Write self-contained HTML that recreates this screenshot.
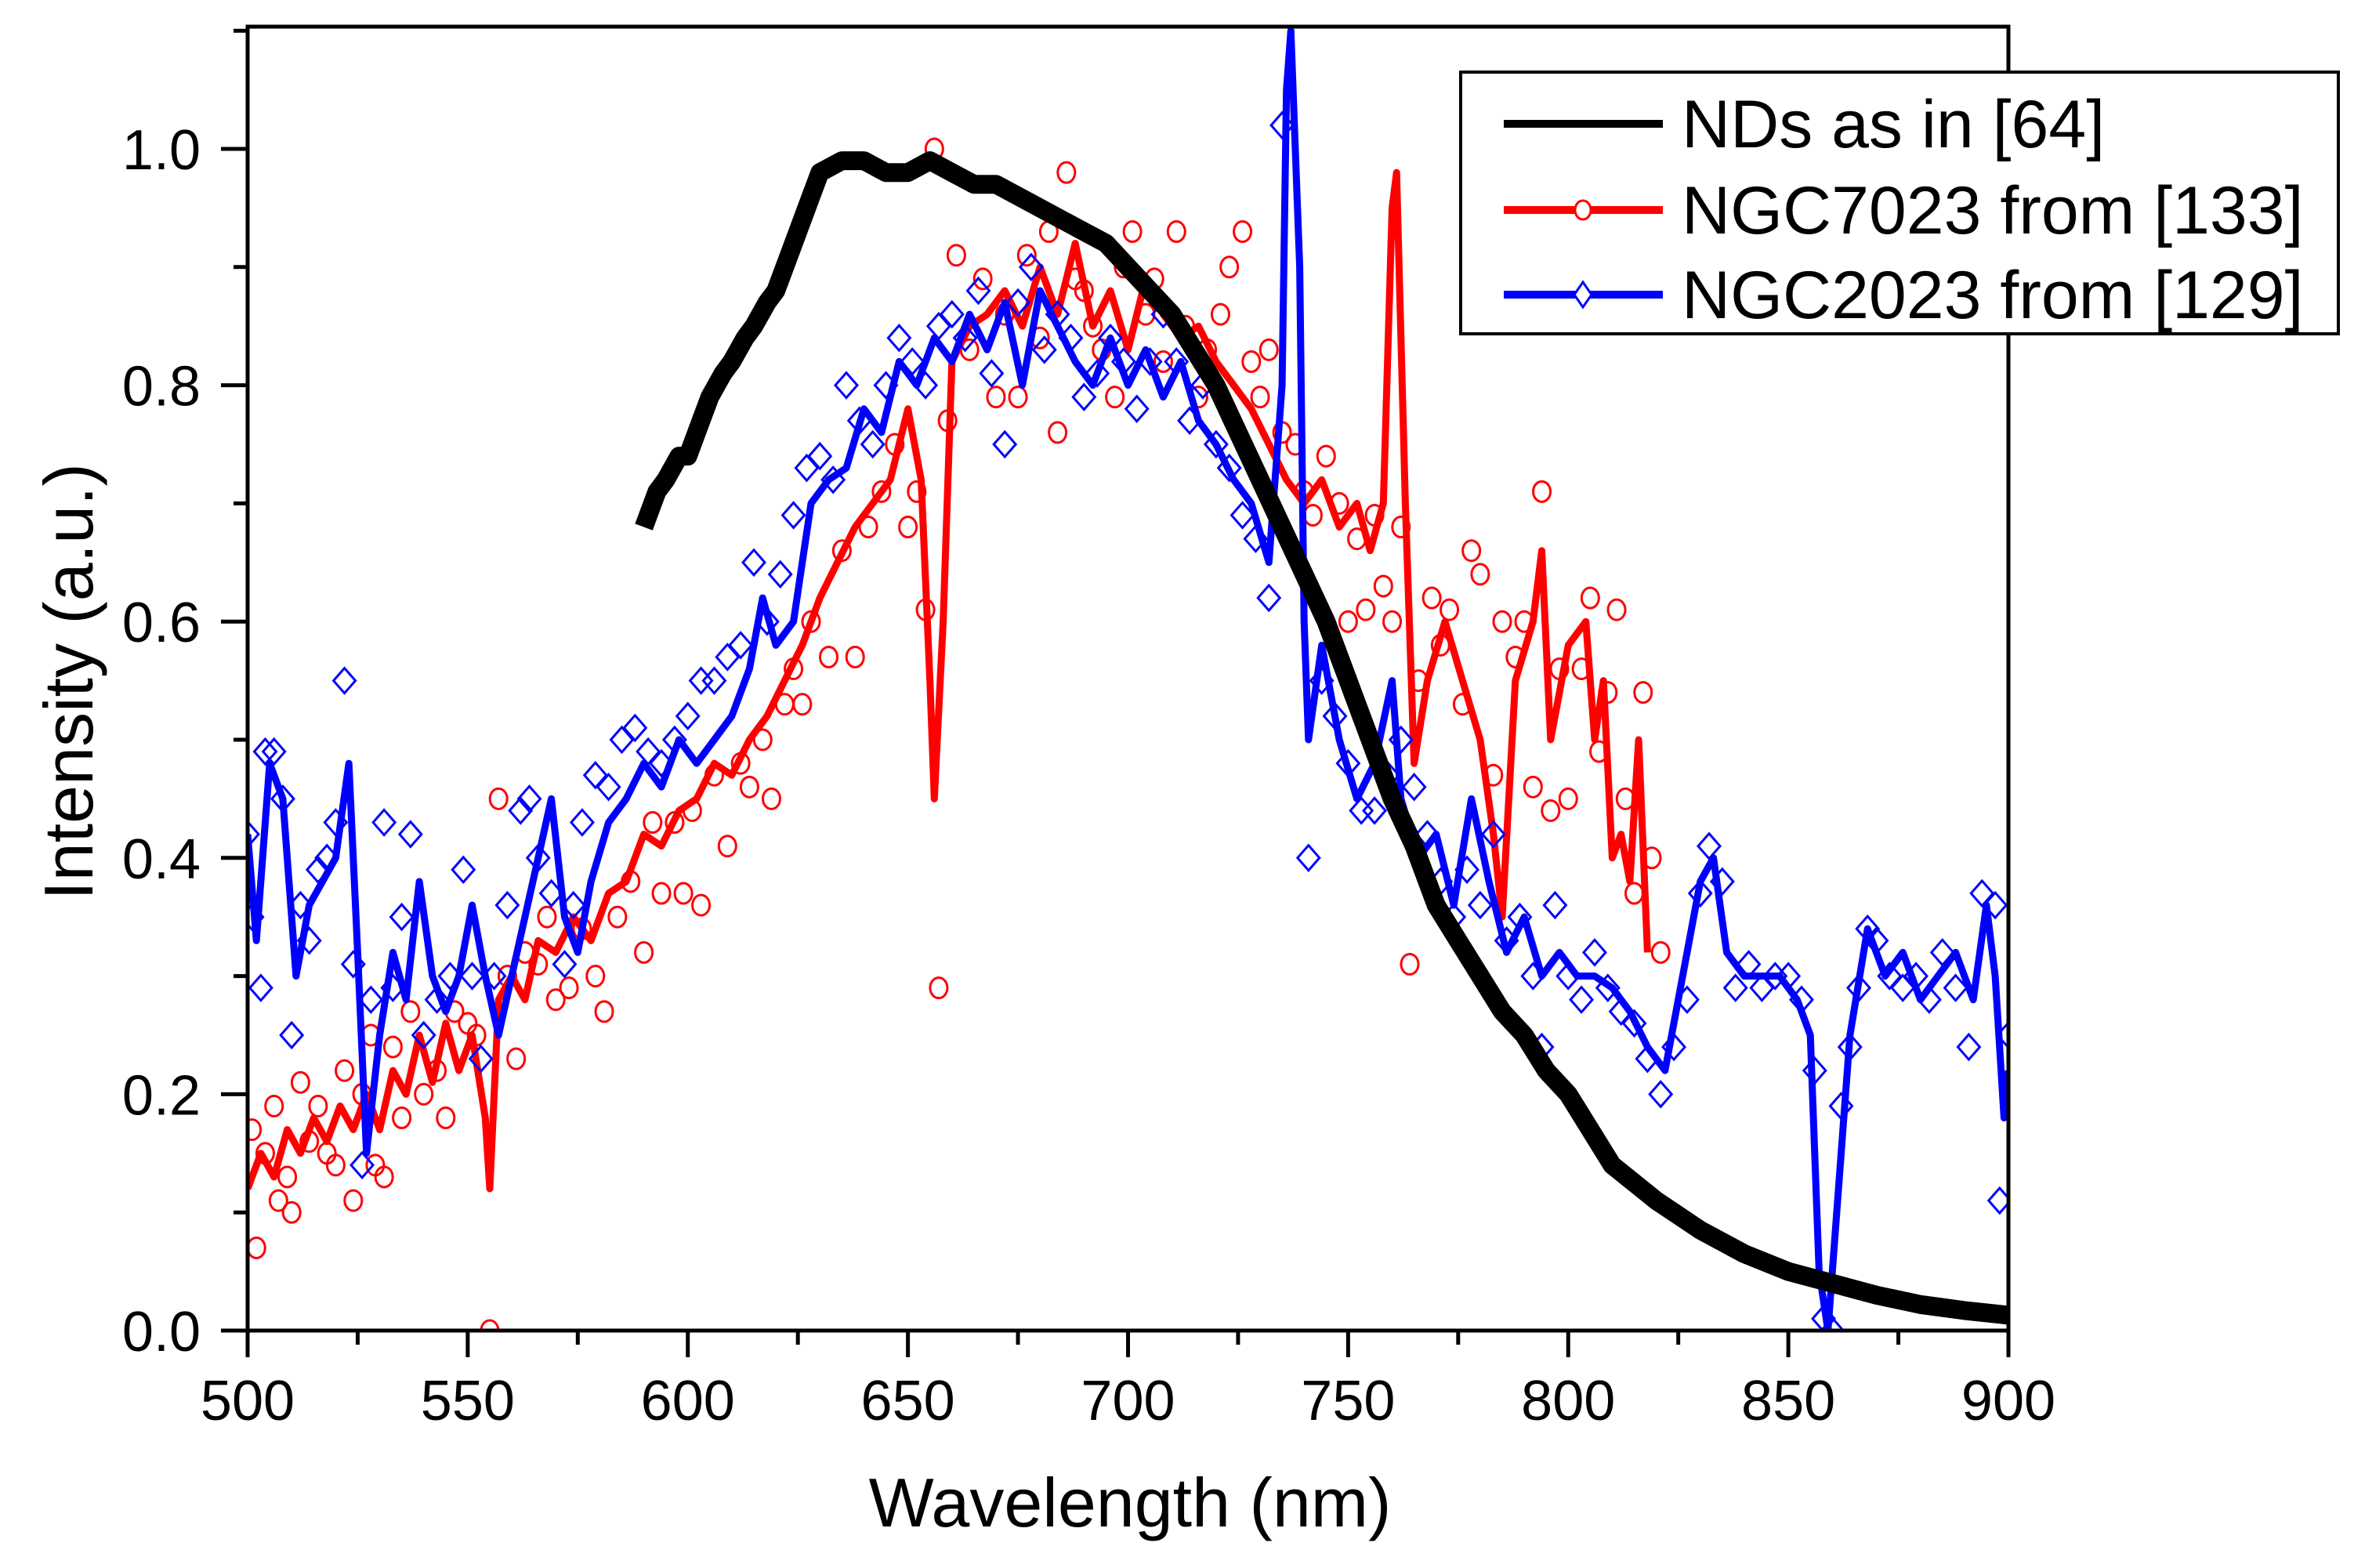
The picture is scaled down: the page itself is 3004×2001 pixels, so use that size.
<!DOCTYPE html>
<html><head><meta charset="utf-8"><style>
html,body{margin:0;padding:0;background:#fff}
svg{display:block}
text{font-family:"Liberation Sans",Arial,sans-serif;fill:#000}
</style></head><body>
<svg id="chart" width="3004" height="2001" viewBox="0 0 3004 2001" xmlns="http://www.w3.org/2000/svg">
<rect width="3004" height="2001" fill="#fff"/>
<g id="series"></g>
<g id="axes"></g>
<g>
<rect x="1864" y="92" width="1120" height="334" fill="#fff" stroke="#000" stroke-width="4"/>
<line x1="1919" y1="158" x2="2122" y2="158" stroke="#000" stroke-width="10"/>
<text x="2146" y="188" font-size="86">NDs as in [64]</text>
<line x1="1919" y1="268" x2="2122" y2="268" stroke="#f00" stroke-width="10"/>
<ellipse cx="2020" cy="268" rx="10" ry="12" fill="#fff" stroke="#f00" stroke-width="3"/>
<text x="2146" y="298" font-size="86">NGC7023 from [133]</text>
<line x1="1919" y1="376" x2="2122" y2="376" stroke="#00f" stroke-width="10"/>
<path d="M2020 360 L2031 376 L2020 392 L2009 376 Z" fill="#fff" stroke="#00f" stroke-width="3"/>
<text x="2146" y="406" font-size="86">NGC2023 from [129]</text>
</g>
<text x="1442" y="1948" font-size="88" text-anchor="middle">Wavelength (nm)</text>
<text transform="translate(118,870) rotate(-90)" font-size="88" text-anchor="middle">Intensity (a.u.)</text>
</svg>
<script>
const xTicks=[500,550,600,650,700,750,800,850,900];
const yTicks=[0.0,0.2,0.4,0.6,0.8,1.0];
const yTickLabels=["0.0","0.2","0.4","0.6","0.8","1.0"];
const blackNm=[590,593,595,598,600,603,605,608,610,613,615,618,620,623,625,628,630,635,640,645,650,655,660,665,670,675,680,685,690,695,700,705,710,715,720,725,730,735,740,745,750,755,760,765,770,775,780,785,790,795,800,805,810,815,820,830,840,850,860,870,880,890,900];
const blackVal=[0.68,0.71,0.72,0.74,0.74,0.77,0.79,0.81,0.82,0.84,0.85,0.87,0.88,0.91,0.93,0.96,0.98,0.99,0.99,0.98,0.98,0.99,0.98,0.97,0.97,0.96,0.95,0.94,0.93,0.92,0.9,0.88,0.86,0.83,0.8,0.76,0.72,0.68,0.64,0.6,0.55,0.5,0.45,0.41,0.36,0.33,0.3,0.27,0.25,0.22,0.2,0.17,0.14,0.125,0.11,0.085,0.065,0.05,0.04,0.03,0.022,0.017,0.013];
const redNm=[500,503,506,509,512,515,518,521,524,527,530,533,536,539,542,545,548,551,554,555,557,560,563,566,570,574,578,582,586,590,594,598,602,606,610,614,618,622,626,630,634,638,642,646,650,653,655,656,658,660,664,668,672,676,680,684,688,692,696,700,704,708,712,716,720,724,728,732,736,740,744,748,752,755,758,760,761,763,765,768,772,776,780,783,785,788,792,794,796,800,804,806,808,810,812,814,816,818];
const redVal=[0.12,0.15,0.13,0.17,0.15,0.18,0.16,0.19,0.17,0.2,0.17,0.22,0.2,0.25,0.21,0.26,0.22,0.25,0.18,0.12,0.28,0.3,0.28,0.33,0.32,0.35,0.33,0.37,0.38,0.42,0.41,0.44,0.45,0.48,0.47,0.5,0.52,0.55,0.58,0.62,0.65,0.68,0.7,0.72,0.78,0.72,0.55,0.45,0.6,0.82,0.85,0.86,0.88,0.85,0.9,0.86,0.92,0.85,0.88,0.83,0.89,0.86,0.84,0.85,0.82,0.8,0.78,0.75,0.72,0.7,0.72,0.68,0.7,0.66,0.7,0.95,0.98,0.7,0.48,0.55,0.6,0.55,0.5,0.42,0.35,0.55,0.6,0.66,0.5,0.58,0.6,0.5,0.55,0.4,0.42,0.38,0.5,0.32];
const redMarkNm=[501,502,504,506,507,509,510,512,514,516,518,520,522,524,526,528,529,531,533,535,537,540,543,545,547,550,552,555,557,559,561,563,566,568,570,573,576,579,581,584,587,590,592,594,597,599,601,603,606,609,612,614,617,619,622,624,626,628,632,635,638,641,644,647,650,652,654,656,657,659,661,664,667,670,672,675,677,680,682,684,686,688,690,692,694,697,699,701,704,706,708,711,713,716,718,721,723,726,728,730,732,735,738,740,742,745,748,750,752,754,756,758,760,762,764,766,769,771,773,776,778,780,783,785,788,790,792,794,796,798,800,803,805,807,809,811,813,815,817,819,821];
const redMarkVal=[0.17,0.07,0.15,0.19,0.11,0.13,0.1,0.21,0.16,0.19,0.15,0.14,0.22,0.11,0.2,0.25,0.14,0.13,0.24,0.18,0.27,0.2,0.22,0.18,0.27,0.26,0.25,0.0,0.45,0.3,0.23,0.32,0.31,0.35,0.28,0.29,0.34,0.3,0.27,0.35,0.38,0.32,0.43,0.37,0.43,0.37,0.44,0.36,0.47,0.41,0.48,0.46,0.5,0.45,0.53,0.56,0.53,0.6,0.57,0.66,0.57,0.68,0.71,0.75,0.68,0.71,0.61,1.0,0.29,0.77,0.91,0.83,0.89,0.79,0.86,0.79,0.91,0.84,0.93,0.76,0.98,0.89,0.88,0.85,0.83,0.79,0.9,0.93,0.86,0.89,0.82,0.93,0.85,0.79,0.83,0.86,0.9,0.93,0.82,0.79,0.83,0.76,0.75,0.71,0.69,0.74,0.7,0.6,0.67,0.61,0.69,0.63,0.6,0.68,0.31,0.55,0.62,0.58,0.61,0.53,0.66,0.64,0.47,0.6,0.57,0.6,0.46,0.71,0.44,0.56,0.45,0.56,0.62,0.49,0.54,0.61,0.45,0.37,0.54,0.4,0.32];
const blueNm=[500,502,505,508,511,514,517,520,523,525,527,530,533,536,539,542,545,548,551,554,557,560,563,566,569,572,575,578,582,586,590,594,598,602,606,610,614,617,620,624,628,632,636,640,644,648,652,656,660,664,668,672,676,680,684,688,692,696,700,704,708,712,716,720,724,728,732,735,736,737,739,740,741,744,748,752,756,760,762,766,770,774,778,782,786,790,794,798,802,806,810,814,818,822,826,830,833,836,840,844,848,852,855,857,859,861,864,868,872,876,880,884,888,892,895,897,899,900];
const blueVal=[0.42,0.33,0.48,0.45,0.3,0.36,0.38,0.4,0.48,0.32,0.15,0.25,0.32,0.28,0.38,0.3,0.27,0.3,0.36,0.3,0.25,0.3,0.35,0.4,0.45,0.35,0.32,0.38,0.43,0.45,0.48,0.46,0.5,0.48,0.5,0.52,0.56,0.62,0.58,0.6,0.7,0.72,0.73,0.78,0.76,0.82,0.8,0.84,0.82,0.86,0.83,0.87,0.8,0.88,0.85,0.82,0.8,0.84,0.8,0.83,0.79,0.82,0.77,0.75,0.72,0.7,0.65,0.8,1.05,1.1,0.9,0.6,0.5,0.58,0.5,0.45,0.48,0.55,0.45,0.4,0.42,0.36,0.45,0.38,0.32,0.35,0.3,0.32,0.3,0.3,0.29,0.27,0.24,0.22,0.3,0.38,0.4,0.32,0.3,0.3,0.3,0.28,0.25,0.05,0.0,0.1,0.25,0.34,0.3,0.32,0.28,0.3,0.32,0.28,0.36,0.3,0.18,0.22];
const blueMarkNm=[500,501,503,504,506,508,510,512,514,516,518,520,522,524,526,528,531,533,535,537,540,543,546,549,551,553,556,559,562,564,566,569,572,574,576,579,582,585,588,591,594,597,600,603,606,609,612,615,618,621,624,627,630,633,636,639,642,645,648,651,654,657,660,663,666,669,672,675,678,681,684,687,690,693,696,699,702,705,708,711,714,717,720,723,726,729,732,735,741,744,747,750,753,756,759,762,765,768,771,774,777,780,783,786,789,792,794,797,800,803,806,809,812,815,818,821,824,827,830,832,835,838,841,844,847,850,853,856,858,860,862,864,866,868,870,873,876,879,882,885,888,891,894,897,898,900];
const blueMarkVal=[0.42,0.35,0.29,0.49,0.49,0.45,0.25,0.36,0.33,0.39,0.4,0.43,0.55,0.31,0.14,0.28,0.43,0.29,0.35,0.42,0.25,0.28,0.3,0.39,0.3,0.23,0.3,0.36,0.44,0.45,0.4,0.37,0.31,0.36,0.43,0.47,0.46,0.5,0.51,0.49,0.48,0.5,0.52,0.55,0.55,0.57,0.58,0.65,0.6,0.64,0.69,0.73,0.74,0.72,0.8,0.77,0.75,0.8,0.84,0.82,0.8,0.85,0.86,0.84,0.88,0.81,0.75,0.87,0.9,0.83,0.86,0.84,0.79,0.81,0.84,0.82,0.78,0.82,0.86,0.82,0.77,0.8,0.75,0.73,0.69,0.67,0.62,1.02,0.4,0.55,0.52,0.48,0.44,0.44,0.47,0.5,0.46,0.42,0.38,0.35,0.39,0.36,0.42,0.33,0.35,0.3,0.24,0.36,0.3,0.28,0.32,0.29,0.27,0.26,0.23,0.2,0.24,0.28,0.37,0.41,0.38,0.29,0.31,0.29,0.3,0.3,0.28,0.22,0.01,0.0,0.19,0.24,0.29,0.34,0.33,0.3,0.29,0.3,0.28,0.32,0.29,0.24,0.37,0.36,0.11,0.25];

const L=316,R=2563,T=34,B=1698;
function xs(nm){return L+(nm-500)*(R-L)/400;}
function ys(v){return B-v*1508;}
const NS="http://www.w3.org/2000/svg";
const series=document.getElementById('series');
const axes=document.getElementById('axes');
function mk(tag,attrs,parent){const e=document.createElementNS(NS,tag);for(const k in attrs)e.setAttribute(k,attrs[k]);parent.appendChild(e);return e;}
const clip=mk('clipPath',{id:'pc'},series);
mk('rect',{x:L,y:T,width:R-L,height:B-T},clip);
const g=mk('g',{'clip-path':'url(#pc)'},series);
function pathD(nm,val){return nm.map((n,i)=>(i?'L':'M')+xs(n).toFixed(1)+' '+ys(val[i]).toFixed(1)).join(' ');}

const red=mk('path',{d:pathD(redNm,redVal),fill:'none',stroke:'#f00','stroke-width':9,'stroke-linejoin':'round'},g);


redMarkNm.forEach((n,i)=>{const c=mk('ellipse',{cx:xs(n),cy:ys(redMarkVal[i]),rx:11,ry:13,fill:'none',stroke:'#f00','stroke-width':3},g);

});

const blue=mk('path',{d:pathD(blueNm,blueVal),fill:'none',stroke:'#00f','stroke-width':9,'stroke-linejoin':'round'},g);


blueMarkNm.forEach((n,i)=>{const x=xs(n),y=ys(blueMarkVal[i]);const d=mk('path',{d:`M${x} ${y-16} L${x+14} ${y} L${x} ${y+16} L${x-14} ${y} Z`,fill:'none',stroke:'#00f','stroke-width':3},g);

});

const black=mk('path',{d:pathD(blackNm,blackVal),fill:'none',stroke:'#000','stroke-width':24,'stroke-linejoin':'round'},g);



const frame=mk('rect',{x:L,y:T,width:R-L,height:B-T,fill:'none',stroke:'#000','stroke-width':5},axes);


xTicks.forEach((t,i)=>{const x=xs(t);
const tk=mk('line',{x1:x,y1:B,x2:x,y2:B+34,stroke:'#000','stroke-width':5},axes);


if(i<xTicks.length-1){const m=mk('line',{x1:xs(t+25),y1:B,x2:xs(t+25),y2:B+18,stroke:'#000','stroke-width':5},axes);

}
const lb=mk('text',{x:x,y:1812,'font-size':72,'text-anchor':'middle'},axes);lb.textContent=String(t);

});
yTicks.forEach((t,i)=>{const y=ys(t);
const tk=mk('line',{x1:L-34,y1:y,x2:L,y2:y,stroke:'#000','stroke-width':5},axes);


const m=mk('line',{x1:L-18,y1:ys(t+0.1),x2:L,y2:ys(t+0.1),stroke:'#000','stroke-width':5},axes);


const lb=mk('text',{x:256,y:y+26,'font-size':72,'text-anchor':'end'},axes);lb.textContent=yTickLabels[i];

});
</script>
</body></html>
